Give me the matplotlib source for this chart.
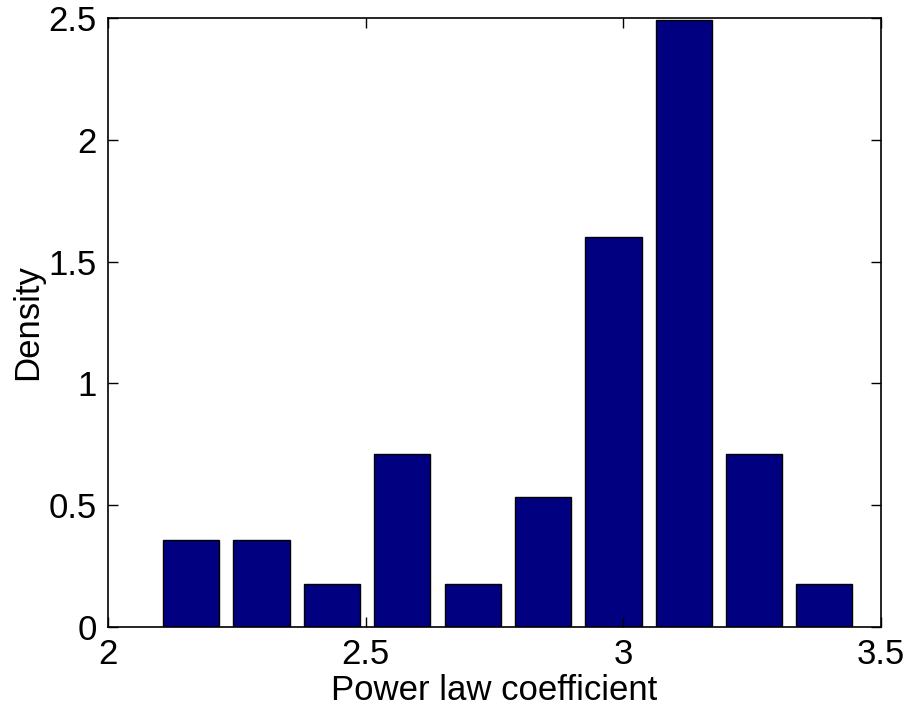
import matplotlib
matplotlib.use("Agg")
import matplotlib.pyplot as plt

bin_centers = [2.161, 2.298, 2.434, 2.571, 2.708, 2.844, 2.981, 3.117, 3.254, 3.390]
density = [0.356, 0.356, 0.178, 0.712, 0.178, 0.534, 1.602, 2.492, 0.712, 0.178]
bar_width = 0.109
xticks = [2, 2.5, 3, 3.5]
xticklabels = ["2", "2.5", "3", "3.5"]
yticks = [0, 0.5, 1, 1.5, 2, 2.5]
yticklabels = ["0", "0.5", "1", "1.5", "2", "2.5"]

plt.rcParams['font.family'] = ['Liberation Sans', 'DejaVu Sans']
fig = plt.figure(figsize=(9.09, 7.06), dpi=100)
ax = fig.add_axes([108/909, 1 - 627/706, (881-108)/909, (627-18)/706])
ax.bar(bin_centers, density, width=bar_width, color='#000080', edgecolor='black', linewidth=1.0)
ax.set_xlim(2, 3.5)
ax.set_ylim(0, 2.5)
ax.set_xticks(xticks)
ax.set_xticklabels(xticklabels)
ax.set_yticks(yticks)
ax.set_yticklabels(yticklabels)
ax.tick_params(direction='in', length=7, width=1, labelsize=25, top=True, right=True, pad=8)
for s in ax.spines.values():
    s.set_linewidth(1.2)
ax.set_xlabel("Power law coefficient", fontsize=25, labelpad=2)
ax.set_ylabel("Density", fontsize=25, labelpad=3)
fig.savefig("out.png", dpi=100)
